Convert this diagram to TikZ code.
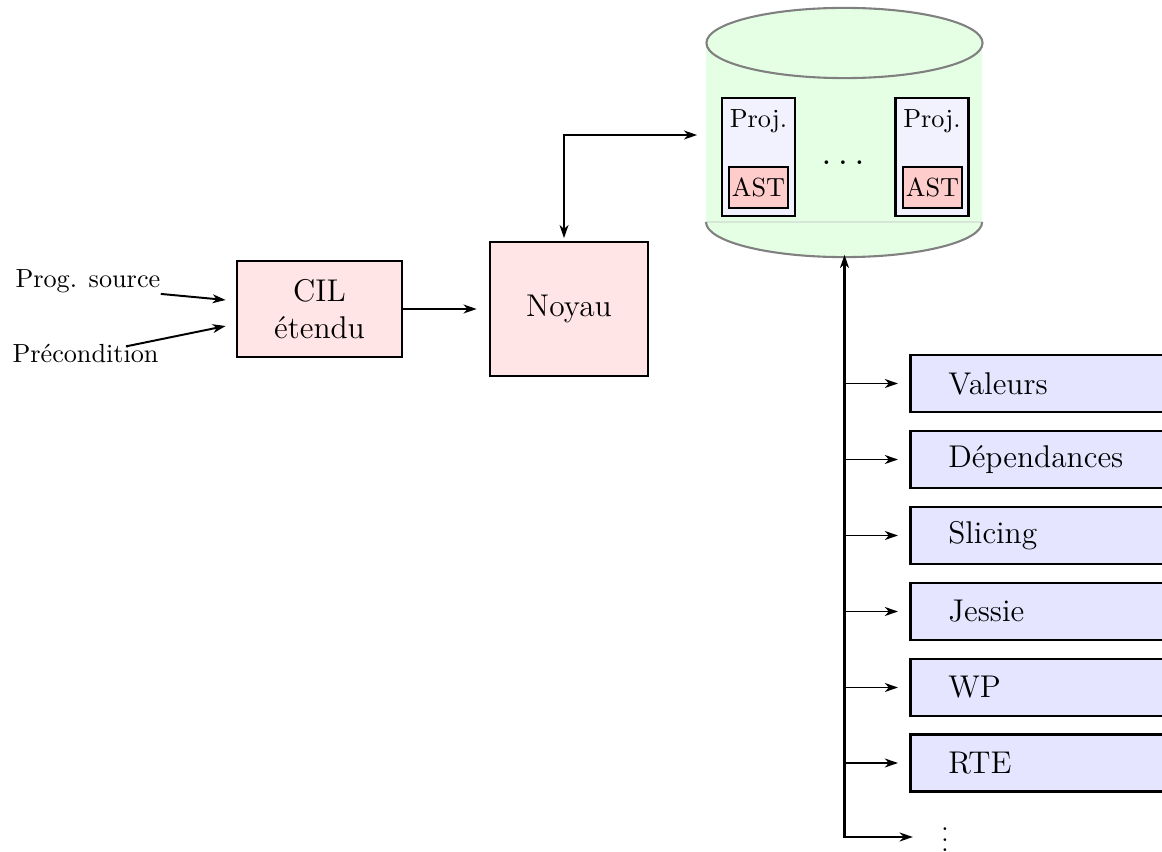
\documentclass[tikz,border=0pt]{standalone}
\usepackage{fontspec}
\usetikzlibrary{arrows.meta,calc}
\begin{document}
\begin{tikzpicture}[x=0.3817pt,y=-0.3817pt,
  arr/.style={-{Stealth[length=5pt,width=3.4pt,inset=1.5pt]}, line width=0.75pt},
  arrb/.style={{Stealth[length=5pt,width=3.4pt,inset=1.5pt]}-{Stealth[length=5pt,width=3.4pt,inset=1.5pt]}, line width=0.75pt},
  box/.style={draw, line width=1pt, inner sep=0pt, align=center, font=\large},
  tool/.style={draw, line width=1pt, fill=blue!10, anchor=west, font=\large,
    minimum height=21.8pt, inner xsep=14.5pt, inner ysep=0pt, text width=82pt, align=left},
  proj/.style={draw, line width=1pt, fill=blue!5, minimum width=27.9pt, minimum height=45pt, inner sep=0pt},
  ast/.style={draw, line width=1pt, fill=red!20, minimum width=22.5pt, minimum height=15.6pt, inner sep=0pt},
  lbl/.style={inner sep=0pt}
]
\useasboundingbox (0,0) rectangle (1162,852);
\clip (0,0) rectangle (1162,852);

% cylinder
\fill[green!10] (706,43) rectangle (982,222);
\fill[green!10] (844.5,222) ellipse [x radius=52.7pt, y radius=13.4pt];
\draw[green!25!gray!25, line width=0.4pt] (706,222) -- (982,222);
\draw[gray, line width=0.8pt, fill=green!10] (844.5,43) ellipse [x radius=52.7pt, y radius=13.4pt];
\draw[gray, line width=0.8pt] (706,222) arc[start angle=180, end angle=360, x radius=52.7pt, y radius=13.4pt];
\node[minimum width=105.3pt, minimum height=93.1pt, inner sep=0pt] (db) at (844.5,135) {};

% projects
\node[proj] (p1) at (758.5,157) {};
\node[lbl, anchor=base] (p1t) at (758.5,128) {Proj.};
\node[ast] (a1) at (758.5,187.5) {AST};
\node[proj] (p2) at (932,157) {};
\node[lbl, anchor=base] (p2t) at (932,128) {Proj.};
\node[ast] (a2) at (932.5,187.5) {AST};
\node[lbl, anchor=base, font=\fontsize{13.5pt}{16pt}\selectfont] (dd) at (843,164.5) {$\ldots$};

% left chain
\node[box, fill=red!10, minimum width=63pt, minimum height=36.6pt] (cil) at (319.5,309) {CIL\\étendu};
\node[box, fill=red!10, minimum width=60.3pt, minimum height=51.1pt] (noyau) at (569,309) {Noyau};
\node[lbl, anchor=base west] (src) at (15,288) {Prog. source};
\node[lbl, anchor=base west] (pre) at (12,363) {Précondition};

\draw[arr] (src.south east) -- ($(cil.west)+(-10,-9)$);
\draw[arr] ($(pre.north west)+(115,2)$) -- ($(cil.west)+(-10,17)$);
\draw[arr, shorten >=4.6pt] (cil.east) -- (noyau.west);
\draw[arrb, shorten <=1pt] ([xshift=-1.9pt]noyau.north) |- ([xshift=-3.4pt]db.west);

% tools
\node[tool] (v1) at (909,383.5) {Valeurs};
\node[tool] (v2) at (909,459.5) {Dépendances};
\node[tool] (v3) at (909,535.5) {Slicing};
\node[tool] (v4) at (909,611.5) {Jessie};
\node[tool] (v5) at (909,687.5) {WP};
\node[tool] (v6) at (909,763) {RTE};
\node[lbl, anchor=base] (dots) at (945,851.5) {$\vdots$};

\coordinate (trunk) at (844.5,837);
\draw[arrb, line width=0.9pt, shorten <=-1pt] (db.south) -- (trunk) -- ($(trunk -| dots.west)+(-28,0)$);
\foreach \v in {v1,v2,v3,v4,v5,v6}
  \draw[arr, shorten >=4.2pt] (trunk |- \v.west) -- (\v.west);
\end{tikzpicture}
\end{document}
